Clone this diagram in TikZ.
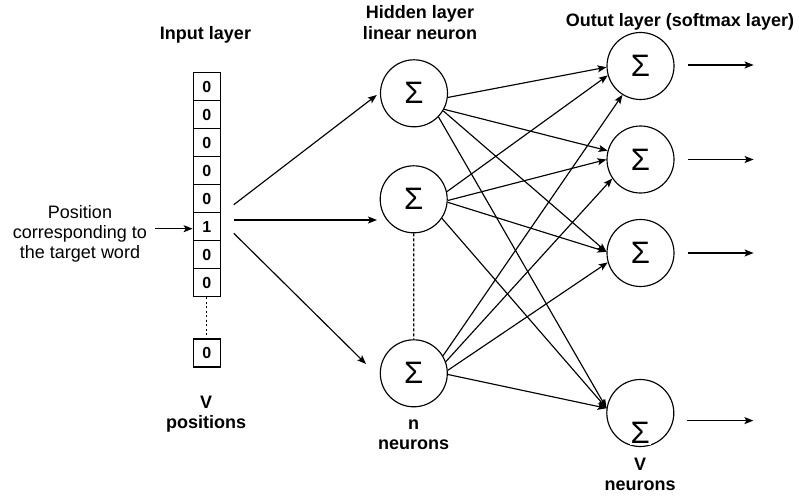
\documentclass[tikz,border=0pt]{standalone}
\usepackage{fontspec}
\setmainfont{Liberation Sans}
\usetikzlibrary{arrows.meta,calc}
\begin{document}
\begin{tikzpicture}[x=1pt,y=-1pt,
  line width=1.15pt,
  arr/.style={-{Stealth[length=9pt,width=7pt,inset=2pt]}},
  cellbox/.style={draw,minimum width=27pt,minimum height=28pt,inner sep=0pt,
     font=\fontsize{16}{16}\selectfont\bfseries},
  neuron/.style={draw,circle,minimum size=67pt,inner sep=0pt,
     font=\fontsize{31}{31}\selectfont},
  title/.style={align=center,font=\fontsize{18}{21}\selectfont\bfseries},
  plain/.style={align=center,font=\fontsize{18}{20}\selectfont}]
\useasboundingbox (0,0) rectangle (799,500);

% titles
\node[title] (tin) at (205.5,35) {Input layer};
\node[title] (thid) at (420,22.5) {Hidden layer\\linear neuron};
\node[title] (tout) at (680,22) {Outut layer (softmax layer)};

% input column
\foreach \i in {1,...,8}{
  \pgfmathsetmacro{\yy}{86.7+28*(\i-1)}
  \node[cellbox] (c\i) at (206.7,\yy) {\ifnum\i=6 1\else 0\fi};
}
\node[cellbox] (clast) at (206.7,353) {0};
\draw[dash pattern=on 2pt off 2.5pt] (c8.south) -- (clast.north);
\node[plain] (vpos) at (206,414) {\textbf{V}\\\textbf{positions}};

% side text
\node[plain] (pos) at (80,234) {Position\\corresponding to\\the target word};
\path (c6.west -| pos.east) ++(4,2) coordinate (pstart);
\draw[arr] (pstart) -- (c6.west |- pstart);

% hidden neurons
\node[neuron] (h1) at (414,93.3) {Σ};
\node[neuron] (h2) at (413.7,199.3) {Σ};
\node[neuron] (h3) at (413.8,373.3) {Σ};
\draw[dash pattern=on 3pt off 2pt] (h2.south) -- (h3.north);
\node[plain] (nneu) at (413.7,435) {\textbf{n}\\\textbf{neurons}};

% output neurons
\node[neuron] (o1) at (640.5,66) {Σ};
\node[neuron] (o2) at (640.5,159.5) {Σ};
\node[neuron] (o3) at (640.5,253) {Σ};
\node[neuron] (o4) at (640.3,413) {};
\node[fill=white,inner sep=0.8pt,font=\fontsize{31}{31}\selectfont] (o4s) at (640.3,433.3) {Σ};
\node[plain] (vneu) at (640,474) {\textbf{V}\\\textbf{neurons}};

% input -> hidden
\coordinate (s1) at ($(c6.east)+(13,-22)$);
\coordinate (s2) at ($(c6.east)+(13,-6.7)$);
\coordinate (s3) at ($(c6.east)+(13,6.6)$);
\coordinate (t1) at ($(h1)+(-37.2,1.7)$);
\coordinate (t2) at ($(h2)+(-36.7,20.7)$);
\coordinate (t3) at ($(h3)+(-47.8,-9.3)$);
\draw[arr] (s1) -- (t1);
\draw[arr] (s2) -- (t2);
\draw[arr] (s3) -- (t3);

% hidden -> output
\draw[arr] (h1.-7) -- (o1.182);
\draw[arr] (h1.-28) -- (o2.165);
\draw[arr] (h1.-31) -- (o3.178);
\draw[arr] (h1.-44) -- (o4.172);
\draw[arr] (h2.13) -- (o1.196);
\draw[arr] (h2.-2) -- (o2.180);
\draw[arr] (h2.-5) -- (o3.178);
\draw[arr] (h2.-34) -- (o4.172);
\draw[arr] (h3.31) -- (o1.238);
\draw[arr] (h3.20) -- (o2.214);
\draw[arr] (h3.5) -- (o3.196);
\draw[arr] (h3.-2) -- (o4.172);

% output arrows
\coordinate (a1) at ($(o1.east)+(13,-1)$);
\coordinate (b1) at ($(o1.east)+(79,-1)$);
\coordinate (a2) at ($(o2.east)+(13,0)$);
\coordinate (b2) at ($(o2.east)+(79,0)$);
\coordinate (a3) at ($(o3.east)+(13,0)$);
\coordinate (b3) at ($(o3.east)+(79,0)$);
\coordinate (a4) at ($(o4.east)+(13,7.6)$);
\coordinate (b4) at ($(o4.east)+(79,7.6)$);
\draw[arr] (a1) -- (b1);
\draw[arr] (a2) -- (b2);
\draw[arr] (a3) -- (b3);
\draw[arr] (a4) -- (b4);
\end{tikzpicture}
\end{document}
